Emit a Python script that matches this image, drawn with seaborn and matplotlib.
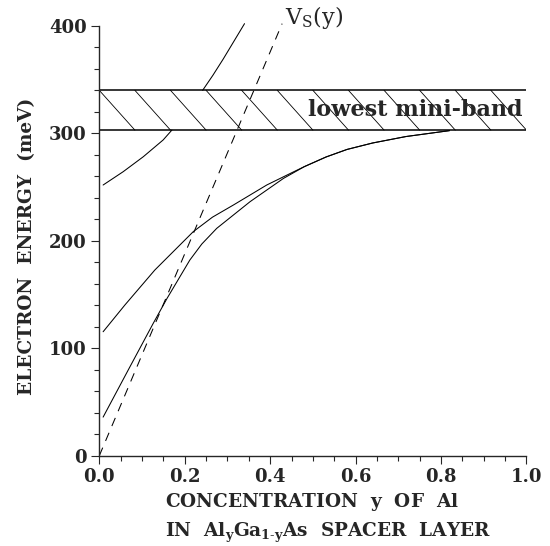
import numpy as np
import pandas as pd
import matplotlib
matplotlib.use("Agg")
import matplotlib.pyplot as plt
import seaborn as sns

# Al concentration y  vs  electron energy (meV)
x_lower = [0.009, 0.068, 0.126, 0.158, 0.212, 0.240, 0.275, 0.353, 0.431, 0.480, 0.531, 0.580, 0.640, 0.718, 0.820]
e_lower = [36.0, 80.0, 123.0, 146.0, 182.1, 197.0, 211.6, 236.4, 258.0, 269.0, 278.0, 285.0, 291.0, 297.0, 302.5]

x_upper = [0.009, 0.060, 0.130, 0.220, 0.265, 0.314, 0.392, 0.454, 0.480, 0.531, 0.580, 0.640, 0.718, 0.820]
e_upper = [115.4, 140.3, 172.8, 208.5, 222.0, 233.3, 251.9, 264.0, 269.0, 278.0, 285.0, 291.0, 297.0, 302.5]

x_edge_lo = [0.009, 0.056, 0.103, 0.1495, 0.170]
e_edge_lo = [251.9, 264.3, 278.2, 293.8, 303.0]

x_edge_hi = [0.242, 0.266, 0.290, 0.315, 0.340]
e_edge_hi = [340.0, 354.0, 369.0, 385.5, 402.0]

x_vs = [0.0, 0.428]
e_vs = [0.0, 402.0]

band_lo = 303.0
band_hi = 340.0
band_label = "lowest mini-band"

sns.set_style("ticks")
plt.rcParams["font.family"] = ["DejaVu Serif"]
plt.rcParams["mathtext.fontset"] = "dejavuserif"

fig = plt.figure(figsize=(5.5, 5.46), dpi=100)
ax = fig.add_axes([0.1805, 0.1652, 0.7767, 0.7954])

lw = 0.75
for xs, es in [(x_lower, e_lower), (x_upper, e_upper), (x_edge_lo, e_edge_lo), (x_edge_hi, e_edge_hi)]:
    sns.lineplot(x=xs, y=es, color="black", lw=lw, ax=ax, sort=False)

sns.lineplot(x=x_vs, y=e_vs, color="black", lw=lw, ax=ax, sort=False,
             linestyle=(0, (8.5, 7)))

# mini-band: edges + hatching
ax.axhline(band_lo, color="black", lw=1.1)
ax.axhline(band_hi, color="black", lw=1.1)
n_hatch = 12
for k in range(n_hatch):
    ax.plot([k / n_hatch, (k + 1) / n_hatch], [band_hi, band_lo], color="black", lw=0.6)

ax.text(0.99, (band_lo + band_hi) / 2, band_label, ha="right", va="center",
        fontsize=16, fontweight="bold")
ax.text(0.434, 408, r"$\mathrm{V_S(y)}$", ha="left", va="center", fontsize=16,
        clip_on=False)

ax.set_xlim(0, 1.0)
ax.set_ylim(0, 404)
ax.set_xticks(np.arange(0, 1.01, 0.2))
ax.set_xticklabels([f"{v:.1f}" for v in np.arange(0, 1.01, 0.2)])
ax.set_xticks(np.arange(0, 1.01, 0.05), minor=True)
ax.set_yticks(np.arange(0, 401, 100))
ax.set_yticks(np.arange(0, 401, 20), minor=True)

sns.despine(ax=ax)
ax.spines["left"].set_bounds(0, 400)
ax.spines["left"].set_linewidth(1.0)
ax.spines["bottom"].set_linewidth(1.0)
ax.tick_params(which="major", direction="out", length=6, width=0.8, labelsize=13, pad=3)
ax.tick_params(which="minor", direction="out", length=3.5, width=0.8)
for t in ax.get_xticklabels() + ax.get_yticklabels():
    t.set_fontweight("bold")

ax.set_ylabel("ELECTRON  ENERGY  (meV)", fontsize=13.3, fontweight="bold")
ax.yaxis.set_label_coords(-0.169, 0.483)
ax.yaxis.label.set_va("center")

ax.set_xlabel("CONCENTRATION  $\\mathbf{y}$  OF  Al\nIN  $\\mathbf{Al_yGa_{1\\text{-}y}As}$  SPACER  LAYER",
              fontsize=13.3, fontweight="bold", linespacing=1.5,
              ha="left", va="top", multialignment="left")
ax.xaxis.set_label_coords(0.154, -0.081)

fig.savefig("out.png", dpi=100, facecolor="white")
